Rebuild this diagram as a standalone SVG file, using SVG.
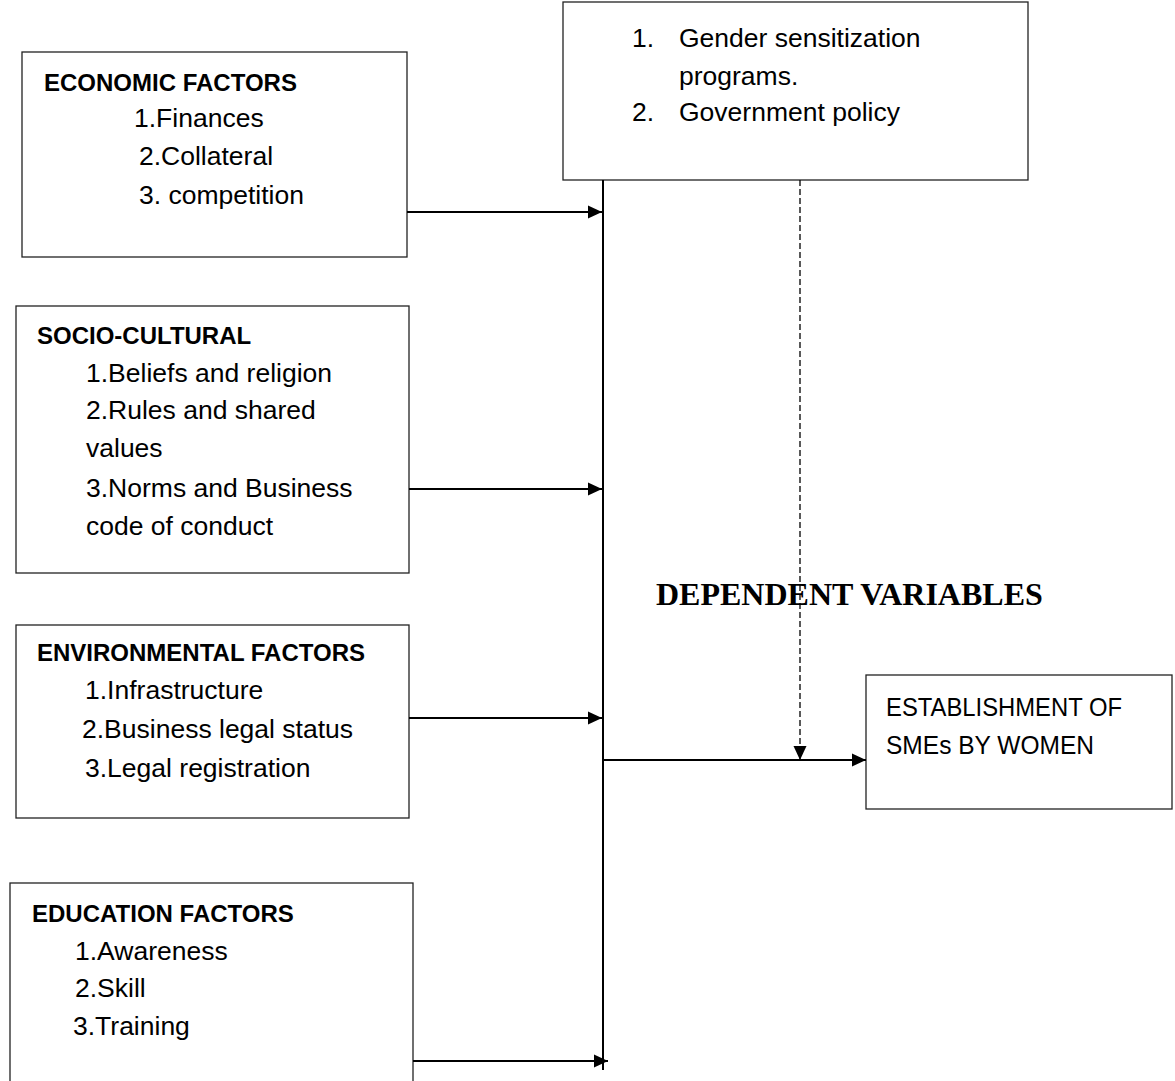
<svg xmlns="http://www.w3.org/2000/svg" width="1175" height="1081" viewBox="0 0 1175 1081">
<style>
.box{fill:#fff;stroke:#222;stroke-width:1.3}
.t{font-family:"Liberation Sans",Arial,sans-serif;font-size:26.5px;fill:#000}
.b{font-weight:bold;font-size:24px}
.ln{stroke:#000;stroke-width:2;fill:none}
.dash{stroke:#000;stroke-width:1.3;stroke-dasharray:6,3;fill:none}
.dv{font-family:"Liberation Serif","Times New Roman",serif;font-size:32px;font-weight:bold;fill:#000}
</style>
<defs>
<marker id="ah" viewBox="0 0 14 14" refX="14" refY="7" markerWidth="14" markerHeight="14" markerUnits="userSpaceOnUse" orient="auto"><path d="M0,0.5 L14,7 L0,13.5 z" fill="#000"/></marker>
</defs>
<g id="moderating">
<rect class="box" x="563" y="2" width="465" height="178"/>
<text class="t" x="632" y="47">1.</text><text class="t" x="679" y="47">Gender sensitization</text>
<text class="t" x="679" y="85">programs.</text>
<text class="t" x="632" y="121">2.</text><text class="t" x="679" y="121">Government policy</text>
</g>
<g id="economic">
<rect class="box" x="22" y="52" width="385" height="205"/>
<text class="t b" x="44" y="91">ECONOMIC FACTORS</text>
<text class="t" x="134" y="127">1.Finances</text>
<text class="t" x="139" y="165">2.Collateral</text>
<text class="t" x="139" y="204">3. competition</text>
</g>
<g id="socio">
<rect class="box" x="16" y="306" width="393" height="267"/>
<text class="t b" x="37" y="344">SOCIO-CULTURAL</text>
<text class="t" x="86" y="382">1.Beliefs and religion</text>
<text class="t" x="86" y="419">2.Rules and shared</text>
<text class="t" x="86" y="457">values</text>
<text class="t" x="86" y="497">3.Norms and Business</text>
<text class="t" x="86" y="535">code of conduct</text>
</g>
<g id="environmental">
<rect class="box" x="16" y="625" width="393" height="193"/>
<text class="t b" x="37" y="661">ENVIRONMENTAL FACTORS</text>
<text class="t" x="85" y="699">1.Infrastructure</text>
<text class="t" x="82" y="738">2.Business legal status</text>
<text class="t" x="85" y="777">3.Legal registration</text>
</g>
<g id="education">
<rect class="box" x="10" y="883" width="403" height="210"/>
<text class="t b" x="32" y="922">EDUCATION FACTORS</text>
<text class="t" x="75" y="960">1.Awareness</text>
<text class="t" x="75" y="997">2.Skill</text>
<text class="t" x="73" y="1035">3.Training</text>
</g>
<g id="dependent">
<rect class="box" x="866" y="675" width="306" height="134"/>
<text class="t" x="886" y="716" textLength="236" lengthAdjust="spacingAndGlyphs">ESTABLISHMENT OF</text>
<text class="t" x="886" y="754" textLength="208" lengthAdjust="spacingAndGlyphs">SMEs BY WOMEN</text>
</g>
<text class="dv" x="656" y="605">DEPENDENT VARIABLES</text>
<g id="connectors">
<line class="ln" x1="603" y1="180" x2="603" y2="1070"/>
<line class="ln" x1="407" y1="212" x2="602" y2="212" marker-end="url(#ah)"/>
<line class="ln" x1="409" y1="489" x2="602" y2="489" marker-end="url(#ah)"/>
<line class="ln" x1="409" y1="718" x2="602" y2="718" marker-end="url(#ah)"/>
<line class="ln" x1="413" y1="1061" x2="608" y2="1061" marker-end="url(#ah)"/>
<line class="ln" x1="603" y1="760" x2="866" y2="760" marker-end="url(#ah)"/>
<line class="dash" x1="800" y1="180" x2="800" y2="760" marker-end="url(#ah)"/>
</g>
</svg>
